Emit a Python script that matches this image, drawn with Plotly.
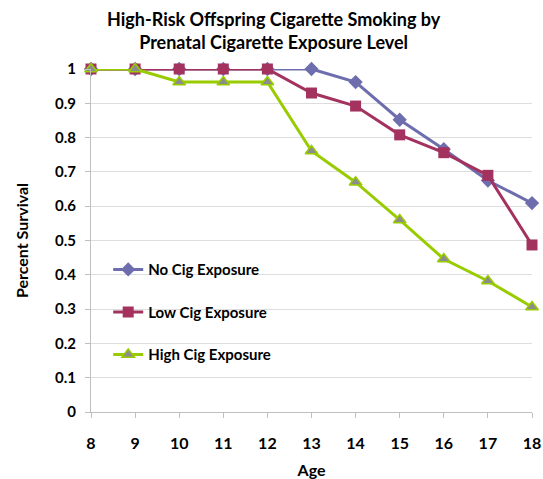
import plotly.graph_objects as go

ages = [8, 9, 10, 11, 12, 13, 14, 15, 16, 17, 18]
no_cig = [1, 1, 1, 1, 1, 1, 0.962, 0.852, 0.766, 0.675, 0.609]
low_cig = [1, 1, 1, 1, 1, 0.93, 0.892, 0.808, 0.756, 0.69, 0.487]
high_cig = [1, 1, 0.962, 0.962, 0.962, 0.761, 0.670, 0.560, 0.446, 0.382, 0.306]
y_ticks = [0, 0.1, 0.2, 0.3, 0.4, 0.5, 0.6, 0.7, 0.8, 0.9, 1]
y_labels = ["0", "0.1", "0.2", "0.3", "0.4", "0.5", "0.6", "0.7", "0.8", "0.9", "1"]
title_lines = ["High-Risk Offspring Cigarette Smoking by", "Prenatal Cigarette Exposure Level"]

FONT = "Lato"

fig = go.Figure()
fig.add_trace(go.Scatter(
    x=ages, y=no_cig, name="<b>No Cig Exposure</b>", mode="lines+markers",
    line=dict(color="#6E6EAE", width=3),
    marker=dict(symbol="diamond", size=11, color="#6E6EAE"),
    cliponaxis=False, legendgroup="a"))
fig.add_trace(go.Scatter(
    x=ages, y=low_cig, name="<b>Low Cig Exposure</b>", mode="lines+markers",
    line=dict(color="#A3325F", width=3),
    marker=dict(symbol="square", size=11, color="#A3325F"),
    cliponaxis=False, legendgroup="b"))
fig.add_trace(go.Scatter(
    x=ages, y=high_cig, name="<b>High Cig Exposure</b>", mode="lines+markers",
    line=dict(color="#99CC00", width=3),
    marker=dict(symbol="triangle-up", size=11, color="#8C8C8C",
                line=dict(color="#99CC00", width=1.5)),
    cliponaxis=False, legendgroup="c"))

fig.add_annotation(
    text="<b>" + "<br>".join(title_lines) + "</b>",
    xref="paper", yref="paper", x=0.415, y=(412 - 30.5) / 343,
    xanchor="center", yanchor="middle", showarrow=False,
    font=dict(size=18, family=FONT, color="black"))

fig.update_layout(
    width=543, height=479,
    margin=dict(l=91, r=11, t=69, b=67, autoexpand=False),
    paper_bgcolor="white", plot_bgcolor="white",
    font=dict(family=FONT, color="black"),
    legend=dict(x=0.039, y=0.463, xanchor="left", yanchor="top",
                bgcolor="rgba(0,0,0,0)", tracegroupgap=20,
                font=dict(size=15, family=FONT, color="black"),
                itemwidth=30),
    xaxis=dict(
        range=[8, 18], tickvals=ages, ticktext=[f"<b>{a}</b>" for a in ages],
        showgrid=False, showline=True, linecolor="#BFBFBF", linewidth=1,
        ticks="outside", ticklen=5, tickcolor="#BFBFBF",
        ticklabelstandoff=12, automargin=False,
        tickfont=dict(size=16, family=FONT), zeroline=False,
        title=dict(text="<b>Age</b>", font=dict(size=16, family=FONT), standoff=13)),
    yaxis=dict(
        range=[0, 1], tickvals=y_ticks, ticktext=[f"<b>{t}</b>" for t in y_labels],
        showgrid=True, gridcolor="#DDDDDD", gridwidth=1,
        showline=True, linecolor="#BFBFBF", linewidth=1,
        ticks="outside", ticklen=5, tickcolor="#BFBFBF",
        ticklabelstandoff=6, automargin=False,
        tickfont=dict(size=15, family=FONT), zeroline=False,
        title=dict(text="<b>Percent Survival</b>", font=dict(size=16, family=FONT), standoff=22)),
)

fig.write_html("out.html")
